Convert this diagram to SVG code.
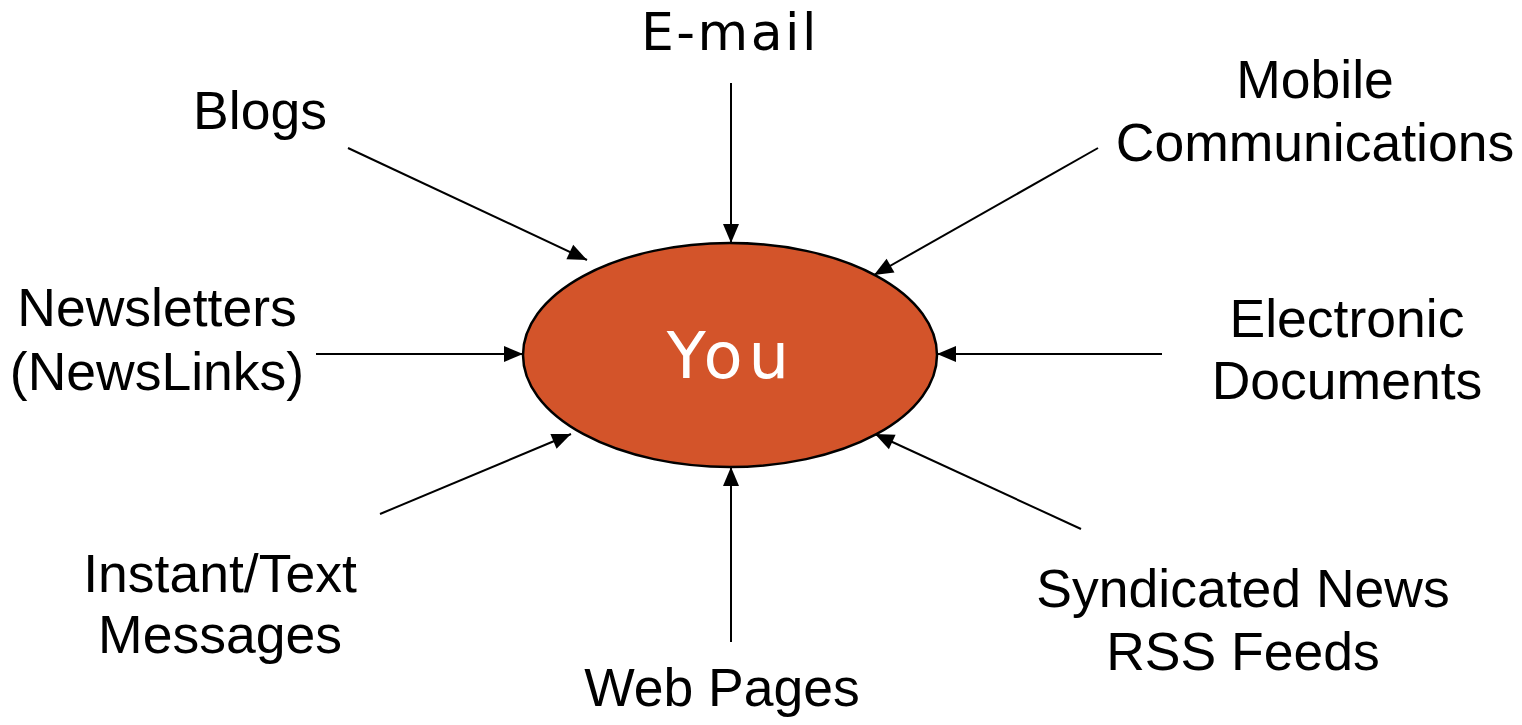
<svg xmlns="http://www.w3.org/2000/svg" width="1522" height="725" viewBox="0 0 1522 725">
  <style>
    .lbl { font-family: "Liberation Sans", Arial, sans-serif; font-size: 53.5px; fill: #000; text-anchor: middle; }
    .wide { font-family: "DejaVu Sans", Verdana, sans-serif; fill: #000; text-anchor: middle; }
    .conn { stroke: #000; stroke-width: 2; fill: none; marker-end: url(#arrow); }
  </style>
  <defs>
    <marker id="arrow" markerUnits="userSpaceOnUse" markerWidth="20" markerHeight="18" refX="19" refY="8" orient="auto" overflow="visible">
      <path d="M0,0 L19,8 L0,16 z" fill="#000"/>
    </marker>
  </defs>
  <rect width="1522" height="725" fill="#fff"/>

  <g id="connectors">
    <line class="conn" x1="348" y1="148" x2="587" y2="260"/>
    <line class="conn" x1="731" y1="83" x2="731" y2="243"/>
    <line class="conn" x1="1098" y1="148" x2="874" y2="275"/>
    <line class="conn" x1="316" y1="354" x2="523" y2="354"/>
    <line class="conn" x1="1162" y1="354" x2="937" y2="354"/>
    <line class="conn" x1="380" y1="514" x2="571" y2="434"/>
    <line class="conn" x1="731" y1="642" x2="731" y2="467"/>
    <line class="conn" x1="1081" y1="529" x2="875" y2="434"/>
  </g>

  <g id="you">
    <ellipse cx="730" cy="355" rx="207" ry="112" fill="#D3542A" stroke="#000" stroke-width="2.5"/>
    <text class="wide" x="731" y="378" font-size="64" letter-spacing="6" style="fill:#fff">You</text>
  </g>

  <g id="email">
    <text class="wide" x="730" y="50" font-size="52" letter-spacing="2.5">E-mail</text>
  </g>

  <g id="blogs">
    <text class="lbl" x="260" y="129">Blogs</text>
  </g>

  <g id="mobile">
    <text class="lbl" x="1315" y="98">Mobile</text>
    <text class="lbl" x="1315" y="161">Communications</text>
  </g>

  <g id="newsletters">
    <text class="lbl" x="157" y="326">Newsletters</text>
    <text class="lbl" x="157" y="390">(NewsLinks)</text>
  </g>

  <g id="electronic">
    <text class="lbl" x="1347" y="337">Electronic</text>
    <text class="lbl" x="1347" y="399">Documents</text>
  </g>

  <g id="instant">
    <text class="lbl" x="220" y="592">Instant/Text</text>
    <text class="lbl" x="220" y="653">Messages</text>
  </g>

  <g id="syndicated">
    <text class="lbl" x="1243" y="607">Syndicated News</text>
    <text class="lbl" x="1243" y="670">RSS Feeds</text>
  </g>

  <g id="webpages">
    <text class="lbl" x="722" y="706">Web Pages</text>
  </g>
</svg>
